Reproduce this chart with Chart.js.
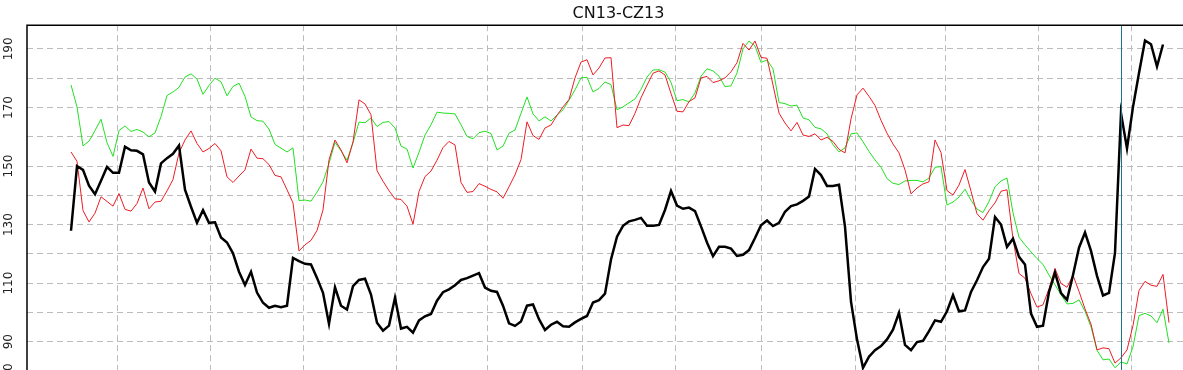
<!DOCTYPE html>
<html><head><meta charset="utf-8">
<script src="https://cdn.jsdelivr.net/npm/chart.js@4.4.1/dist/chart.umd.min.js"></script>
<style>
html,body{margin:0;padding:0;background:#fff;overflow:hidden;width:1183px;height:370px}
#wrap{position:absolute;left:0;top:0}
</style></head><body>
<div id="wrap"><canvas id="c" width="1210" height="400"></canvas></div>
<script>
const chartTitle = 'CN13-CZ13';

// black: CN13-CZ13 spread (one sample every step along the date axis)
const spread = [
127.9,150.0,148.7,143.3,140.4,145.0,149.7,147.7,147.7,156.6,
155.4,155.2,154.0,144.4,141.3,150.9,152.7,154.2,157.0,141.9,
136.1,130.6,134.9,130.6,130.8,125.6,123.9,120.2,113.9,109.4,
113.9,106.8,103.3,101.6,102.3,101.8,102.3,118.6,117.5,116.6,
116.4,111.8,106.7,96.1,108.6,102.3,101.0,109.0,111.1,111.5,
106.1,96.5,93.8,95.5,105.0,94.5,95.1,93.1,97.3,98.7,
99.5,104.0,106.9,107.9,109.3,111.1,111.7,112.6,113.4,108.5,
107.4,107.0,102.3,96.3,95.4,96.9,102.3,102.7,97.7,94.0,
95.8,96.8,95.3,95.1,96.6,97.8,98.8,103.4,104.2,106.4,
118.1,125.9,129.6,131.1,131.6,132.3,129.6,129.6,129.9,135.0,
141.5,136.5,135.4,135.8,134.6,129.4,123.9,119.2,122.4,122.4,
121.8,119.3,119.7,121.3,125.4,129.8,131.4,129.5,130.6,134.4,
136.3,136.9,138.1,139.6,149.0,146.9,143.2,143.2,143.6,129.3,
103.7,90.8,81.1,84.9,87.1,88.5,90.8,94.1,99.9,88.9,
87.1,89.9,90.3,93.6,97.3,96.8,100.4,105.9,100.4,100.7,
107.0,111.0,115.5,118.3,132.6,130.0,122.4,125.2,119.0,116.4,
99.6,95.1,95.5,107.0,113.6,106.6,104.3,112.8,122.1,127.3,
121.0,112.5,105.8,106.7,120.3,168.0,156.0,170.2,181.8,192.9,
191.6,184.0,191.5,null
];

// red series
const redSeries = [
154.8,151.6,134.8,130.9,133.9,139.5,137.9,136.3,140.6,135.2,
134.6,137.2,142.5,135.4,137.7,138.0,141.5,145.4,154.5,158.9,
162.0,157.7,154.8,156.0,157.7,155.2,146.3,144.4,146.6,148.7,
155.8,152.7,152.5,150.5,146.8,146.3,141.9,137.4,121.0,123.1,
124.6,128.0,135.0,152.1,158.9,155.5,151.1,158.2,172.6,171.2,
167.5,148.4,144.8,141.6,138.8,138.6,136.3,130.1,141.3,146.4,
148.3,152.0,156.3,158.4,157.2,144.4,141.0,141.3,144.0,143.1,
142.0,141.2,139.0,142.9,147.0,152.2,165.1,160.4,159.1,163.0,
164.0,167.3,170.2,172.7,180.1,185.5,186.3,181.1,183.5,186.9,
187.0,163.1,164.0,163.8,168.0,173.3,177.6,181.7,182.5,181.1,
174.8,168.7,168.5,172.0,173.3,180.1,180.6,178.5,179.1,180.1,
182.2,185.3,191.9,189.6,192.7,187.1,186.8,177.7,168.1,164.7,
162.0,164.9,160.6,160.1,161.0,158.9,159.8,158.4,155.7,154.5,
166.1,174.3,176.6,173.8,170.7,165.6,161.2,157.5,154.5,148.7,
140.5,142.5,143.9,144.6,158.9,154.6,141.6,140.1,143.5,148.8,
141.4,133.7,131.5,134.8,137.4,141.4,141.9,125.1,113.3,111.7,
106.4,101.8,102.6,108.1,115.0,109.9,108.6,112.7,107.2,101.2,
96.0,87.2,87.9,87.6,82.7,84.5,87.2,95.5,107.5,110.6,
109.3,108.9,113.0,96.5
];

// green series
const greenSeries = [
177.7,170.2,156.9,158.5,162.1,166.0,158.0,153.3,162.1,163.7,
161.8,162.5,161.6,160.0,161.3,166.9,174.1,175.3,176.9,180.4,
181.5,179.7,174.5,177.5,180.0,178.8,174.0,177.2,178.3,173.8,
166.8,165.5,165.3,162.6,157.4,156.1,154.8,156.2,138.2,138.4,
138.0,141.1,144.6,150.9,158.1,155.2,152.0,158.0,165.0,164.8,
166.4,163.5,164.9,165.2,163.0,156.8,155.8,149.3,154.7,160.6,
164.1,168.4,168.1,168.0,167.8,164.1,160.1,159.3,161.4,161.9,
161.1,155.5,156.8,161.2,162.3,168.0,173.6,167.8,165.4,166.8,
165.4,167.4,169.2,172.5,176.0,180.1,180.3,175.3,176.5,178.7,
177.8,169.2,170.2,171.6,172.9,176.2,180.4,182.8,182.9,182.1,
178.6,172.3,172.7,171.9,175.0,180.7,183.2,182.5,180.7,177.1,
177.4,181.8,190.0,192.7,191.0,185.4,186.2,183.2,171.7,171.3,
170.5,170.8,166.4,165.8,163.2,162.7,161.0,157.3,154.8,156.2,
161.0,161.3,158.3,155.0,152.1,149.6,145.7,144.1,143.7,144.9,
145.1,145.1,144.6,145.9,149.6,149.8,136.7,137.7,139.4,142.1,
138.3,135.3,134.1,137.9,142.9,144.9,145.9,134.0,125.7,123.1,
120.7,118.4,116.4,112.8,109.4,106.1,102.9,103.1,104.3,100.4,
95.1,87.1,83.8,84.1,81.1,83.1,82.4,88.3,98.9,99.7,
98.8,96.5,101.1,89.6
];

// vertical grid lines (month boundaries) in sample-index units
const monthTicks = [7.83,23.33,38.67,54.33,69.5,85.17,100.83,115.0,130.67,145.83,161.33,176.67];
// horizontal grid values and labelled values
const yGridValues = [80,90,100,110,120,130,140,150,160,170,180,190];
const yLabelValues = [80,90,110,130,150,170,190];
// vertical marker position (sample index)
const markerIndex = 175;

const toXY = arr => arr.map((v, i) => ({x: i, y: v}));

const decor = {
  id: 'decor',
  afterDatasetsDraw(chart) {
    const {ctx, chartArea: a, scales: {x, y}} = chart;
    ctx.save();
    const mx = Math.round(x.getPixelForValue(markerIndex)) + 0.5;
    ctx.strokeStyle = '#1d7484';
    ctx.lineWidth = 1;
    ctx.beginPath(); ctx.moveTo(mx, a.top); ctx.lineTo(mx, a.bottom); ctx.stroke();
    ctx.strokeStyle = '#000';
    ctx.lineWidth = 1.5;
    ctx.beginPath();
    ctx.moveTo(a.left, a.bottom + 5); ctx.lineTo(a.left, a.top); ctx.lineTo(a.right, a.top);
    ctx.stroke();
    ctx.fillStyle = '#222';
    ctx.font = '12px "DejaVu Sans"';
    ctx.textAlign = 'center';
    ctx.textBaseline = 'middle';
    yLabelValues.forEach(v => {
      const py = y.getPixelForValue(v);
      ctx.save();
      ctx.translate(9, py);
      ctx.rotate(-Math.PI / 2);
      ctx.fillText(String(v), 0, 0);
      ctx.restore();
    });
    ctx.restore();
  }
};

const gridStyle = {color: '#bcbcbc', lineWidth: 1, drawTicks: false};

new Chart(document.getElementById('c'), {
  type: 'line',
  data: {
    datasets: [
      {label: 'CN13-CZ13', data: toXY(spread), borderColor: '#000', borderWidth: 2.5, pointRadius: 0, tension: 0, spanGaps: false},
      {label: 'red', data: toXY(redSeries), borderColor: '#ee1c24', borderWidth: 1, pointRadius: 0, tension: 0},
      {label: 'green', data: toXY(greenSeries), borderColor: '#22e022', borderWidth: 1, pointRadius: 0, tension: 0}
    ]
  },
  options: {
    responsive: false,
    animation: false,
    devicePixelRatio: 1,
    layout: {padding: {top: 0, left: 0, right: 0, bottom: 29}},
    plugins: {
      legend: {display: false},
      tooltip: {enabled: false},
      title: {
        display: true, text: chartTitle, fullSize: false, color: '#111',
        font: {family: 'DejaVu Sans', size: 16, weight: 'normal', lineHeight: 1.2},
        padding: {top: 4, bottom: 2}
      }
    },
    scales: {
      x: {
        type: 'linear', min: -44 / 6, max: 1139 / 6,
        ticks: {display: false},
        grid: gridStyle,
        border: {display: false, dash: [6, 4]},
        afterBuildTicks: s => { s.ticks = monthTicks.map(v => ({value: v})); },
        afterFit: s => { s.height = 0; }
      },
      y: {
        type: 'linear', min: 80, max: 198.1,
        ticks: {display: false},
        grid: gridStyle,
        border: {display: false, dash: [6, 4]},
        afterBuildTicks: s => { s.ticks = yGridValues.map(v => ({value: v})); },
        afterFit: s => { s.width = 27; }
      }
    }
  },
  plugins: [decor]
});
</script>
</body></html>
